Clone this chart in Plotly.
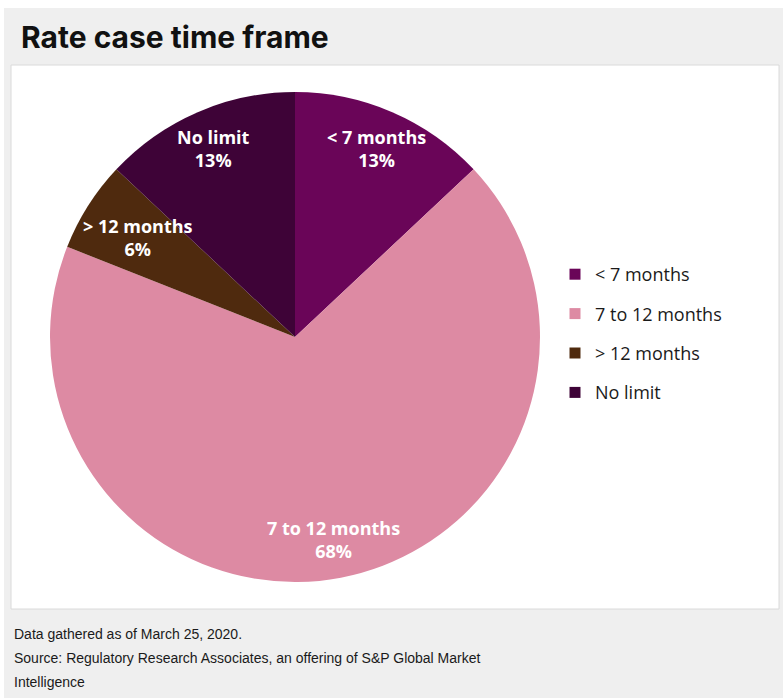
import math
import plotly.graph_objects as go

# Share of rate cases by statutory time frame (percent)
categories = ["< 7 months", "7 to 12 months", "> 12 months", "No limit"]
shares = [13, 68, 6, 13]
colors = ["#6a0558", "#dd8aa3", "#4f2a0e", "#3e0337"]

footer_lines = [
    "Data gathered as of March 25, 2020.",
    "Source: Regulatory Research Associates, an offering of S&P Global Market",
    "Intelligence",
]

W, H = 783, 698
CX, CY, R = 295, 337, 245          # pie centre and radius in pixels
LABEL_R = [0.84, 0.84, 0.76, 0.84]  # label distance from centre, as a fraction of R


def px(x):
    return x / W


def py(y):
    return 1 - y / H


fig = go.Figure()

fig.add_trace(go.Pie(
    labels=categories,
    values=shares,
    sort=False,
    direction="clockwise",
    rotation=0,
    marker=dict(colors=colors, line=dict(width=0)),
    textinfo="none",
    domain=dict(x=[px(CX - R), px(CX + R)], y=[py(CY + R), py(CY - R)]),
    showlegend=False,
    hoverinfo="label+percent",
))

# Slice labels placed on each slice's middle angle
annotations = []
total = sum(shares)
cum = 0
for name, val, fr in zip(categories, shares, LABEL_R):
    mid = (cum + val / 2) / total * 2 * math.pi
    cum += val
    lx = CX + fr * R * math.sin(mid)
    ly = CY - fr * R * math.cos(mid)
    annotations.append(dict(
        text=f"<b>{name}<br>{val}%</b>", xref="paper", yref="paper",
        x=px(lx), y=py(ly), xanchor="center", yanchor="middle", showarrow=False,
        font=dict(family="Open Sans, sans-serif", size=18, color="white"),
    ))

# Legend entries, one group each so the spacing can be widened
for name, col in zip(categories, colors):
    fig.add_trace(go.Scatter(
        x=[None], y=[None], mode="markers", name=name,
        legendgroup=name,
        marker=dict(symbol="square", size=11, color=col),
    ))

annotations.append(dict(
    text="<b>Rate case time frame</b>", xref="paper", yref="paper",
    x=px(19), y=py(37), xanchor="left", yanchor="middle", showarrow=False,
    font=dict(family="Inter, Roboto, sans-serif", size=30, color="#111111"),
))
for i, line in enumerate(footer_lines):
    annotations.append(dict(
        text=line, xref="paper", yref="paper",
        x=px(12), y=py(634 + 24 * i), xanchor="left", yanchor="middle",
        showarrow=False,
        font=dict(family="Liberation Sans, Arial, sans-serif", size=14, color="#1a1a1a"),
    ))

fig.update_layout(
    width=W, height=H,
    margin=dict(l=0, r=0, t=0, b=0),
    paper_bgcolor="white",
    plot_bgcolor="rgba(0,0,0,0)",
    xaxis=dict(visible=False),
    yaxis=dict(visible=False),
    showlegend=True,
    legend=dict(
        x=px(555), y=py(256), xanchor="left", yanchor="top",
        font=dict(family="Open Sans, sans-serif", size=18, color="#1a1a1a"),
        tracegroupgap=13, itemwidth=30, bgcolor="rgba(0,0,0,0)",
    ),
    shapes=[
        # grey card background
        dict(type="rect", xref="paper", yref="paper", x0=px(4), x1=1, y0=0, y1=py(8),
             fillcolor="#efefef", line=dict(width=0), layer="below"),
        # white chart panel
        dict(type="rect", xref="paper", yref="paper", x0=px(11), x1=px(779), y0=py(609), y1=py(65),
             fillcolor="white", line=dict(color="#dadada", width=1), layer="below"),
    ],
    annotations=annotations,
)

fig.write_html("out.html")
